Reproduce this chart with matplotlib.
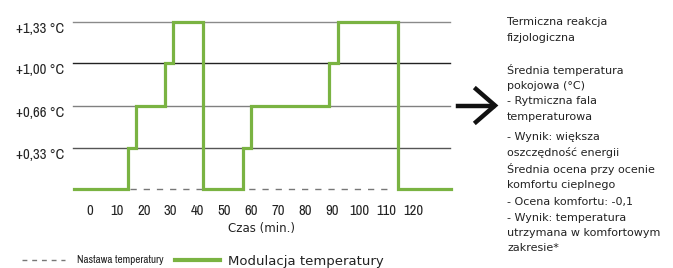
import matplotlib
matplotlib.use("Agg")
import matplotlib.pyplot as plt
import matplotlib.transforms as mtransforms
from matplotlib import font_manager
from matplotlib.font_manager import FontProperties
from matplotlib.lines import Line2D

# data
minutes = [-6, 14, 17, 28, 31, 42, 57, 60, 89, 92, 114.5, 134]
modulation = [0, 0.33, 0.66, 1.00, 1.33, 0, 0.33, 0.66, 1.00, 1.33, 0, 0]
setpoint_minutes = [15, 112]
setpoint = [0, 0]
level_values = [0.33, 0.66, 1.00, 1.33]
level_labels = ["+0,33 °C", "+0,66 °C", "+1,00 °C", "+1,33 °C"]
level_colors = ["#555555", "#808080", "#222222", "#8a8a8a"]
x_ticks = list(range(0, 121, 10))
notes = [
    "Termiczna reakcja",
    "fizjologiczna",
    "",
    "Średnia temperatura",
    "pokojowa (°C)",
    "- Rytmiczna fala",
    "temperaturowa",
    "- Wynik: większa",
    "oszczędność energii",
    "Średnia ocena przy ocenie",
    "komfortu cieplnego",
    "- Ocena komfortu: -0,1",
    "- Wynik: temperatura",
    "utrzymana w komfortowym",
    "zakresie*",
]
note_y = [22, 38, None, 70, 86, 101, 117, 137, 153, 169, 185, 202, 218, 233, 248]

GREEN = "#7ab342"

# look for any condensed / narrow face, otherwise fall back to Roboto
narrow_file = None
cands = []
for f in font_manager.fontManager.ttflist:
    n = (f.name + " " + f.fname).lower()
    if ("condensed" in n or "narrow" in n) and f.weight in (400, "normal", "regular") \
            and f.style == "normal" and "mono" not in n and "serif" not in n.replace("sans", ""):
        cands.append(f)
cands.sort(key=lambda f: (0 if "narrow" in f.name.lower() else 1, f.name))
if cands:
    narrow_file = cands[0].fname


def narrow(size):
    if narrow_file:
        return FontProperties(fname=narrow_file, size=size)
    return FontProperties(family="Roboto", size=size - 1)


W, H = 673, 268
fig = plt.figure(figsize=(W / 100, H / 100), dpi=100)
ax = fig.add_axes([73 / W, 1 - 189 / H, 377 / W, 167 / H])
ax.set_xlim(-6.3, 133.8)
ax.set_ylim(0, 1.33)
for s in ax.spines.values():
    s.set_visible(False)
ax.set_yticks([])

for v, c in zip(level_values, level_colors):
    ax.axhline(v, color=c, lw=1.0, zorder=1, clip_on=False)

off = mtransforms.offset_copy(ax.get_yaxis_transform(), fig=fig, x=-9, y=-7, units="dots")
for v, lab in zip(level_values, level_labels):
    ax.text(0, v, lab, transform=off, ha="right", va="center",
            fontproperties=narrow(10.5), color="#222222")

ax.plot(setpoint_minutes, setpoint, color="#777777", lw=1.0, dashes=(4.5, 5),
        zorder=2, clip_on=False)
ax.plot(minutes, modulation, drawstyle="steps-post", color=GREEN, lw=2.3,
        zorder=3, clip_on=False, solid_joinstyle="miter")

ax.set_xticks(x_ticks)
ax.set_xticklabels([str(t) for t in x_ticks], fontproperties=narrow(10.5), color="#222222")
ax.tick_params(axis="x", length=0, pad=11)
ax.set_xlabel("Czas (min.)", fontsize=8.5, color="#222222", labelpad=3)

# arrow
def fx(px):
    return px / W

def fy(py):
    return 1 - py / H

fig.add_artist(Line2D([fx(458), fx(493)], [fy(105.5), fy(105.5)], color="#111111", lw=3.2))
fig.add_artist(Line2D([fx(476), fx(495), fx(476)], [fy(89), fy(105.5), fy(122)],
                      color="#111111", lw=3.2, solid_joinstyle="miter"))

for txt, y in zip(notes, note_y):
    if txt:
        fig.text(fx(507), fy(y), txt, fontsize=8, color="#222222", va="center", ha="left")

# legend at bottom
fig.add_artist(Line2D([fx(22), fx(65)], [fy(260), fy(260)], color="#777777", lw=1.0,
                      dashes=(3.5, 3.5)))
fig.text(fx(77), fy(260), "Nastawa temperatury", fontproperties=narrow(8),
         color="#222222", va="center")
fig.add_artist(Line2D([fx(175), fx(220)], [fy(260), fy(260)], color=GREEN, lw=3))
fig.text(fx(228), fy(262), "Modulacja temperatury", fontsize=9.5, color="#222222",
         va="center")

fig.savefig("out.png", dpi=100)
